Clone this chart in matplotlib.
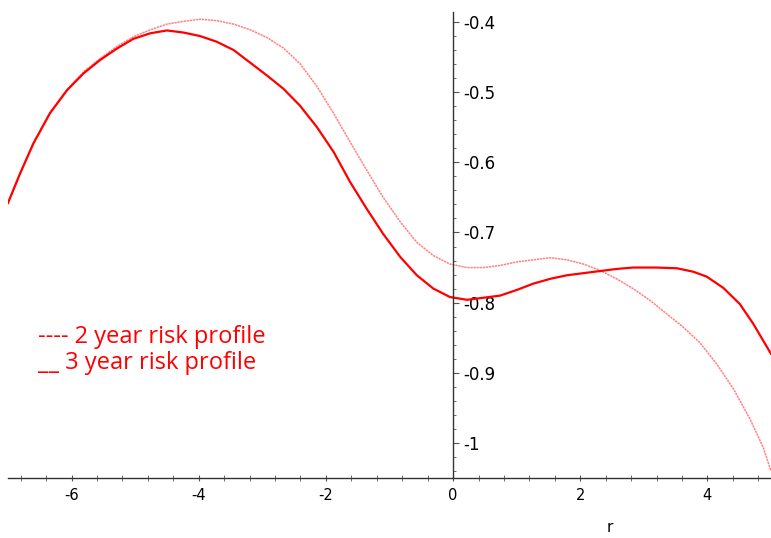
import numpy as np
import matplotlib.pyplot as plt
from matplotlib.ticker import MultipleLocator, FuncFormatter

plt.rcParams['axes.unicode_minus'] = False

# 2 year risk profile
r_2yr = [-7.0, -6.81, -6.6, -6.34, -6.07, -5.81, -5.55, -5.29, -5.03, -4.76,
         -4.5, -4.24, -3.98, -3.72, -3.45, -3.19, -2.93, -2.67, -2.41, -2.14,
         -1.88, -1.62, -1.36, -1.1, -0.83, -0.57, -0.31, -0.05, 0.22, 0.48,
         0.74, 1.0, 1.26, 1.53, 1.79, 2.05, 2.31, 2.57, 2.83, 3.1, 3.36, 3.62,
         3.88, 4.15, 4.41, 4.67, 4.88, 5.0]
v_2yr = [-0.657, -0.615, -0.572, -0.529, -0.496, -0.471, -0.452, -0.435, -0.421,
         -0.411, -0.403, -0.399, -0.396, -0.398, -0.403, -0.411, -0.422, -0.437,
         -0.459, -0.492, -0.530, -0.571, -0.611, -0.650, -0.685, -0.714, -0.733,
         -0.745, -0.750, -0.750, -0.747, -0.742, -0.739, -0.736, -0.739, -0.745,
         -0.754, -0.766, -0.780, -0.797, -0.816, -0.835, -0.857, -0.888, -0.923,
         -0.966, -1.007, -1.040]

# 3 year risk profile
r_3yr = [-7.0, -6.81, -6.6, -6.34, -6.07, -5.81, -5.55, -5.29, -5.03, -4.76,
         -4.5, -4.24, -3.98, -3.72, -3.45, -3.19, -2.93, -2.67, -2.41, -2.14,
         -1.88, -1.62, -1.36, -1.1, -0.83, -0.57, -0.31, -0.05, 0.22, 0.48,
         0.74, 1.0, 1.26, 1.53, 1.79, 2.05, 2.31, 2.57, 2.83, 3.2, 3.52, 3.78,
         3.99, 4.25, 4.51, 4.72, 5.0]
v_3yr = [-0.658, -0.616, -0.573, -0.530, -0.497, -0.473, -0.454, -0.438, -0.424,
         -0.416, -0.412, -0.415, -0.420, -0.428, -0.440, -0.458, -0.476, -0.495,
         -0.519, -0.550, -0.585, -0.628, -0.666, -0.702, -0.735, -0.761, -0.780,
         -0.792, -0.796, -0.793, -0.790, -0.782, -0.773, -0.766, -0.761, -0.758,
         -0.755, -0.752, -0.750, -0.750, -0.751, -0.756, -0.763, -0.779, -0.802,
         -0.830, -0.873]

fig = plt.figure(figsize=(7.71, 5.38), dpi=100)
ax = fig.add_axes([8 / 771, 60 / 538, 763 / 771, 466 / 538])

ax.plot(r_2yr, v_2yr, color='#ff3030', lw=1.1, ls=(0, (1.5, 0.5)), alpha=0.6)
ax.plot(r_3yr, v_3yr, color='red', lw=1.6)

ax.set_xlim(-7, 5)
ax.set_ylim(-1.05, -0.3857)

# axes cross at r = 0, horizontal axis along the bottom
for s in ['top', 'right']:
    ax.spines[s].set_visible(False)
ax.spines['left'].set_position(('data', 0))
ax.spines['bottom'].set_position(('data', -1.05))
for s in ['left', 'bottom']:
    ax.spines[s].set_color('#333333')
    ax.spines[s].set_linewidth(1.0)

ax.xaxis.set_major_locator(MultipleLocator(2))
ax.xaxis.set_minor_locator(MultipleLocator(0.4))
ax.yaxis.set_major_locator(MultipleLocator(0.1))
ax.yaxis.set_minor_locator(MultipleLocator(0.02))
ax.yaxis.set_major_formatter(FuncFormatter(lambda v, p: '%g' % round(v, 2)))
ax.xaxis.set_major_formatter(FuncFormatter(lambda v, p: '%g' % v))

# y ticks point right, labels sit right of the axis line
ax.tick_params(axis='y', which='both', direction='in', color='#555555',
               labelsize=12, pad=-7)
ax.tick_params(axis='y', which='major', length=4)
ax.tick_params(axis='y', which='minor', length=2.2)
ax.tick_params(axis='x', which='both', direction='inout', color='#555555',
               length=4, labelsize=10.5, pad=5)
for lab in ax.get_yticklabels():
    lab.set_horizontalalignment('left')

ax.text(2.47, -1.121, 'r', fontsize=11, ha='center', va='center')

ax.text(-6.525, -0.857, '---- 2 year risk profile', color='red', fontsize=17,
        family='Open Sans', va='baseline')
ax.text(-6.525, -0.894, '__ 3 year risk profile', color='red', fontsize=17,
        family='Open Sans', va='baseline')

fig.savefig('out.png', dpi=100)
